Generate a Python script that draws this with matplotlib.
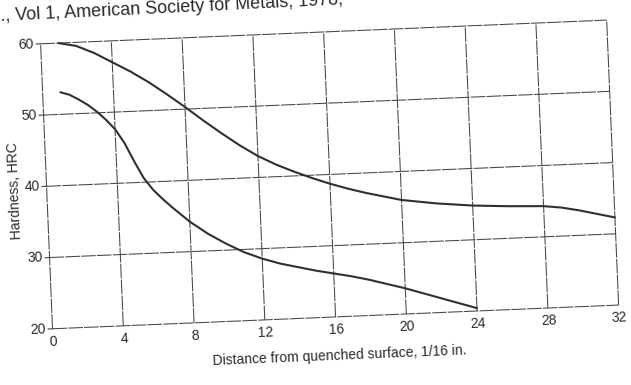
import matplotlib
matplotlib.use("Agg")
import matplotlib.pyplot as plt
from matplotlib.transforms import Affine2D, IdentityTransform

# Jominy end-quench hardness curves
distance_upper = [1, 2, 3, 4, 5, 6, 7, 8, 9, 10, 11, 12, 13, 14, 15, 16, 17, 18,
                  19, 20, 22, 24, 26, 28, 29, 30, 31, 32]
hardness_upper = [60.0, 59.5, 58.4, 57.0, 55.6, 54.0, 52.2, 50.3, 48.3, 46.4,
                  44.6, 43.0, 41.7, 40.6, 39.6, 38.7, 37.9, 37.2, 36.6, 36.0,
                  35.3, 34.8, 34.5, 34.3, 34.0, 33.5, 32.9, 32.3]

distance_lower = [1, 1.5, 2, 2.5, 3, 3.5, 4, 4.5, 5, 5.5, 6, 6.5, 7, 8, 9, 10,
                  11, 12, 13, 14, 15, 16, 17, 18, 19, 20, 21, 22, 23, 24]
hardness_lower = [53.1, 52.7, 52.0, 51.2, 50.2, 49.0, 47.6, 45.6, 43.0, 40.6,
                  38.9, 37.6, 36.4, 34.2, 32.4, 30.9, 29.6, 28.6, 27.8, 27.2,
                  26.6, 26.1, 25.6, 25.0, 24.3, 23.6, 22.8, 22.0, 21.2, 20.4]

x_ticks = [0, 4, 8, 12, 16, 20, 24, 28, 32]
y_ticks = [20, 30, 40, 50, 60]
x_label = "Distance from quenched surface, 1/16 in."
y_label = "Hardness, HRC"
source_note = "., Vol 1, American Society for Metals, 1978,"

INK = "#2b2b2b"
GRID = "#444444"
NARROW = ["Liberation Sans Narrow", "Liberation Sans", "DejaVu Sans"]
SANS = ["Liberation Sans", "DejaVu Sans"]

fig = plt.figure(figsize=(6.31, 3.85), dpi=100)
fig.patch.set_facecolor("white")
ax = fig.add_axes([0.0734, 0.1765, 0.8979, 0.7408])
ax.set_xlim(0, 32)
ax.set_ylim(20, 60)
ax.axis("off")

# the whole chart sits slightly tilted on the page
TILT = 2.4
tilt = Affine2D().rotate_deg_around(329.5, 210.5, TILT)
data_t = ax.transData + tilt


def shifted(dx_px, dy_px):
    return ax.transData + Affine2D().translate(dx_px, dy_px) + tilt


# grid and frame
for xv in x_ticks:
    ax.plot([xv, xv], [y_ticks[0], y_ticks[-1]], transform=data_t,
            color=GRID, lw=0.75, ls=(0, (14, 1.2)), clip_on=False)
for yv in y_ticks:
    ax.plot([x_ticks[0], x_ticks[-1]], [yv, yv], transform=data_t,
            color=GRID, lw=0.75, ls=(0, (14, 1.2)), clip_on=False)
    ax.plot([-0.25, 0], [yv, yv], transform=data_t, color=GRID, lw=0.8,
            clip_on=False)

# hardness curves
for xs, ys in [(distance_upper, hardness_upper), (distance_lower, hardness_lower)]:
    ax.plot(xs, ys, transform=data_t, color="#303030", lw=1.5,
            solid_capstyle="round", solid_joinstyle="round", clip_on=False)

# tick labels
for xv in x_ticks:
    ax.text(xv, y_ticks[0], str(xv), transform=shifted(0, -13),
            rotation=TILT, rotation_mode="anchor", ha="center", va="center",
            fontsize=10, family=NARROW, color=INK)
for yv in y_ticks:
    ax.text(x_ticks[0], yv, str(yv), transform=shifted(-7, 0),
            rotation=TILT, rotation_mode="anchor", ha="right", va="center",
            fontsize=10, family=NARROW, color=INK)

# axis titles
fig.text(340, 385 - 356, x_label, transform=IdentityTransform(),
         rotation=TILT, rotation_mode="anchor", ha="center", va="center",
         fontsize=10, family=SANS, color=INK)
fig.text(15, 385 - 191, y_label, transform=IdentityTransform(),
         rotation=90 + TILT, rotation_mode="anchor", ha="center", va="center",
         fontsize=10, family=SANS, color=INK)

# running source line at the top of the page
fig.text(1, 385 - 21, source_note, transform=IdentityTransform(),
         rotation=2.8, rotation_mode="anchor", ha="left", va="baseline",
         fontsize=13, family=SANS, color=INK)

fig.savefig("out.png", dpi=100, facecolor="white")
